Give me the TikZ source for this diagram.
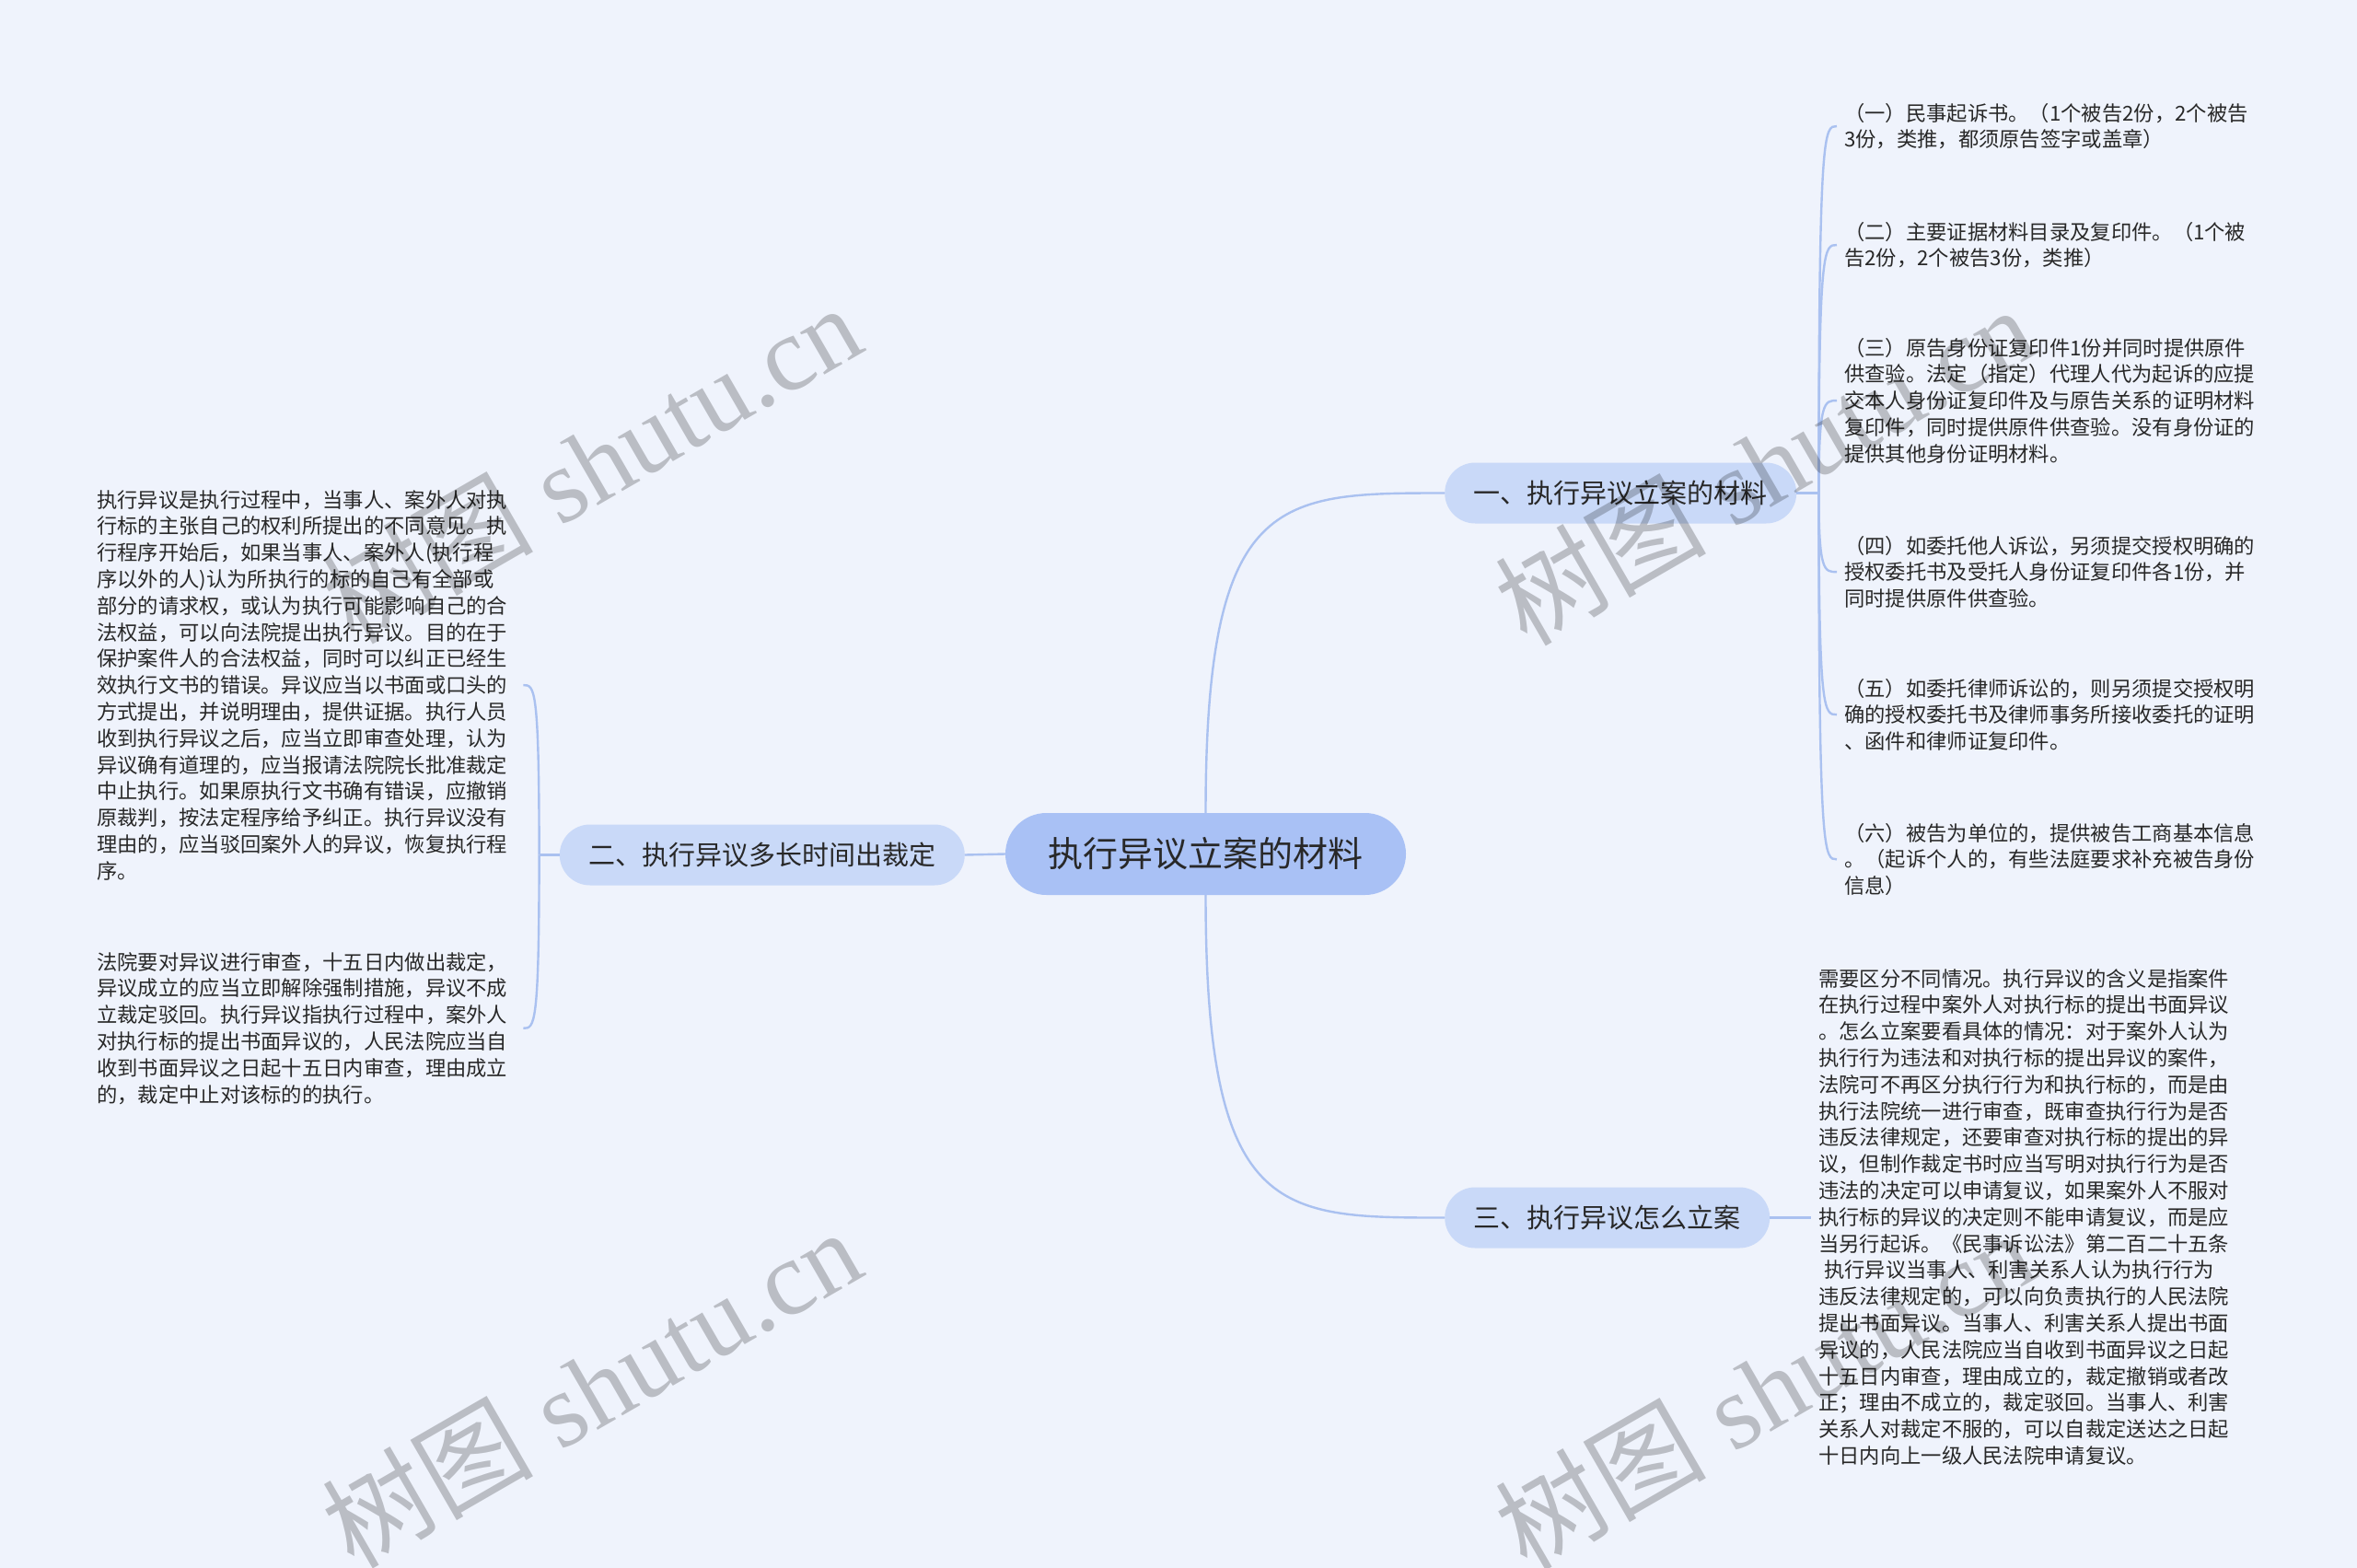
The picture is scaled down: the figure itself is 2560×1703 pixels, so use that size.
\documentclass[tikz,border=0pt]{standalone}
\usepackage{fontspec}
\setmainfont{Noto Sans CJK SC}
\newfontfamily\wmserif{Liberation Serif}
\newfontfamily\wmcjk{Noto Sans CJK SC}
\usetikzlibrary{calc}
\definecolor{bgc}{RGB}{239,243,252}
\definecolor{rootfill}{RGB}{169,193,245}
\definecolor{branchfill}{RGB}{201,217,248}
\definecolor{linkc}{RGB}{170,193,240}
\definecolor{txt}{RGB}{40,40,40}
\begin{document}
\begin{tikzpicture}[x=1pt,y=-1pt,
  linkline/.style={draw=linkc, line width=2.4pt},
  rootnode/.style={fill=rootfill, rounded corners=44.5pt, minimum height=89pt, inner xsep=46.5pt, inner ysep=0pt, text=txt, font=\fontsize{38}{38}\selectfont},
  branchnode/.style={fill=branchfill, rounded corners=33pt, minimum height=66pt, inner xsep=31.5pt, inner ysep=0pt, text=txt, font=\fontsize{29}{29}\selectfont},
  leafnode/.style={text width=455pt, align=left, inner xsep=8pt, inner ysep=0pt, text=txt, font=\fontsize{22.3}{28.8}\selectfont},
  wmnode/.style={text=black, text opacity=0.22, font=\fontsize{115}{115}\selectfont, rotate=30, anchor=base west, inner sep=0pt}
]
\useasboundingbox (0,0) rectangle (2560,1703);
\fill[bgc] (0,0) rectangle (2560,1703);

% nodes
\node[rootnode] (root) at (1309.5,927.5) {执行异议立案的材料};
\node[branchnode, anchor=west] (b1) at (1569,535.5) {一、执行异议立案的材料};
\node[branchnode, anchor=east] (b2) at (1048,928.5) {二、执行异议多长时间出裁定};
\node[branchnode, anchor=west] (b3) at (1569,1322.5) {三、执行异议怎么立案};

\node[leafnode, anchor=base west] (l1) at (1995,131) {（一）民事起诉书。（1个被告2份，2个被告\\3份，类推，都须原告签字或盖章）};
\node[leafnode, anchor=base west] (l2) at (1995,260) {（二）主要证据材料目录及复印件。（1个被\\告2份，2个被告3份，类推）};
\node[leafnode, anchor=base west] (l3) at (1995,386) {（三）原告身份证复印件1份并同时提供原件\\供查验。法定（指定）代理人代为起诉的应提\\交本人身份证复印件及与原告关系的证明材料\\复印件，同时提供原件供查验。没有身份证的\\提供其他身份证明材料。};
\node[leafnode, anchor=base west] (l4) at (1995,601) {（四）如委托他人诉讼，另须提交授权明确的\\授权委托书及受托人身份证复印件各1份，并\\同时提供原件供查验。};
\node[leafnode, anchor=base west] (l5) at (1995,756) {（五）如委托律师诉讼的，则另须提交授权明\\确的授权委托书及律师事务所接收委托的证明\\、函件和律师证复印件。};
\node[leafnode, anchor=base west] (l6) at (1995,913) {（六）被告为单位的，提供被告工商基本信息\\。（起诉个人的，有些法庭要求补充被告身份\\信息）};

\node[leafnode, anchor=base west] (m1) at (97,551) {执行异议是执行过程中，当事人、案外人对执\\行标的主张自己的权利所提出的不同意见。执\\行程序开始后，如果当事人、案外人(执行程\\序以外的人)认为所执行的标的自己有全部或\\部分的请求权，或认为执行可能影响自己的合\\法权益，可以向法院提出执行异议。目的在于\\保护案件人的合法权益，同时可以纠正已经生\\效执行文书的错误。异议应当以书面或口头的\\方式提出，并说明理由，提供证据。执行人员\\收到执行异议之后，应当立即审查处理，认为\\异议确有道理的，应当报请法院院长批准裁定\\中止执行。如果原执行文书确有错误，应撤销\\原裁判，按法定程序给予纠正。执行异议没有\\理由的，应当驳回案外人的异议，恢复执行程\\序。};
\node[leafnode, anchor=base west] (m2) at (97,1053) {法院要对异议进行审查，十五日内做出裁定，\\异议成立的应当立即解除强制措施，异议不成\\立裁定驳回。执行异议指执行过程中，案外人\\对执行标的提出书面异议的，人民法院应当自\\收到书面异议之日起十五日内审查，理由成立\\的，裁定中止对该标的的执行。};

\node[leafnode, anchor=base west] (r1) at (1967,1071) {需要区分不同情况。执行异议的含义是指案件\\在执行过程中案外人对执行标的提出书面异议\\。怎么立案要看具体的情况：对于案外人认为\\执行行为违法和对执行标的提出异议的案件，\\法院可不再区分执行行为和执行标的，而是由\\执行法院统一进行审查，既审查执行行为是否\\违反法律规定，还要审查对执行标的提出的异\\议，但制作裁定书时应当写明对执行行为是否\\违法的决定可以申请复议，如果案外人不服对\\执行标的异议的决定则不能申请复议，而是应\\当另行起诉。《民事诉讼法》第二百二十五条\\\hspace*{6pt}执行异议当事人、利害关系人认为执行行为\\违反法律规定的，可以向负责执行的人民法院\\提出书面异议。当事人、利害关系人提出书面\\异议的，人民法院应当自收到书面异议之日起\\十五日内审查，理由成立的，裁定撤销或者改\\正；理由不成立的，裁定驳回。当事人、利害\\关系人对裁定不服的，可以自裁定送达之日起\\十日内向上一级人民法院申请复议。};

% connectors
\draw[linkline] (root.north) .. controls (root.north |- b1.west) and ($(root.north |- b1.west)!0.3!(b1.west)$) .. (b1.west);
\draw[linkline] (root.south) .. controls (root.south |- b3.west) and ($(root.south |- b3.west)!0.3!(b3.west)$) .. (b3.west);
\draw[linkline] (root.west) -- (b2.east);

\coordinate (j1) at ($(b1.east)+(24,0)$);
\draw[linkline] (b1.east) -- (j1);
\foreach \n in {l1,l2,l3,l4,l5,l6}{
  \draw[linkline] (j1) .. controls (j1 |- \n.west) and ($(j1 |- \n.west)!0.3!(\n.west)$) .. (\n.west);
}
\coordinate (j2) at ($(b2.west)+(-22,0)$);
\draw[linkline] (b2.west) -- (j2);
\foreach \n in {m1,m2}{
  \draw[linkline] (j2) .. controls (j2 |- \n.east) and ($(j2 |- \n.east)!0.3!(\n.east)$) .. (\n.east);
}
\draw[linkline] (b3.east) -- (b3.east -| r1.west);

% watermarks
\node[wmnode] (wm1) at (384,702) {\wmcjk 树图\wmserif\ shutu.cn};
\node[wmnode] (wm2) at (1658,704) {\wmcjk 树图\wmserif\ shutu.cn};
\node[wmnode] (wm3) at (384,1706) {\wmcjk 树图\wmserif\ shutu.cn};
\node[wmnode] (wm4) at (1658,1708) {\wmcjk 树图\wmserif\ shutu.cn};
\end{tikzpicture}
\end{document}
